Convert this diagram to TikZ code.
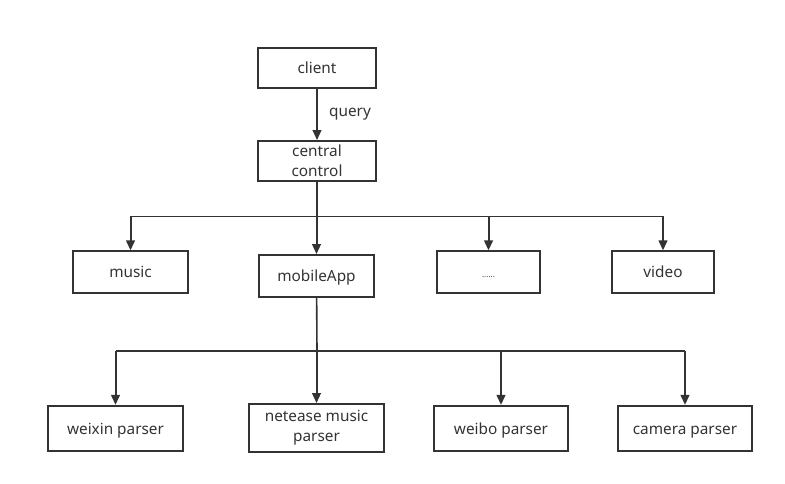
\documentclass[tikz,border=0pt]{standalone}
\usepackage{fontspec}
\setmainfont{Noto Sans}
\usetikzlibrary{arrows.meta}
\definecolor{linegray}{HTML}{333333}
\tikzset{
  box/.style={draw=linegray, line width=1.4pt, rectangle, align=center,
    font=\fontsize{11.5pt}{15pt}\selectfont, text=linegray, inner sep=0pt},
  oneline/.style={text height=1.95ex, text depth=0.4ex},
  arr/.style={draw=linegray, line width=1.5pt, -{Triangle[length=7.5pt,width=6.5pt]}},
  bus/.style={draw=linegray, line width=1.2pt}
}
\begin{document}
\begin{tikzpicture}[x=0.75pt, y=-0.75pt]
    \useasboundingbox (0, 0) rectangle (785, 484);
    % top part
    \node[box, oneline, minimum width=88.5pt, minimum height=30pt] (client) at (317, 68) {client};
    \node[box, minimum width=88.5pt, minimum height=30pt] (central) at (317, 161) {central\\control};
    \draw[arr] (client) -- (central) node[midway, right=5pt, font=\fontsize{11.5pt}{13pt}\selectfont, text=linegray] (query) {query};
    % second row
    \node[box, oneline, minimum width=86pt, minimum height=31pt] (music) at (130.5, 272) {music};
    \node[box, oneline, minimum width=86pt, minimum height=31.5pt] (mobile) at (316.5, 276) {mobileApp};
    \node[box, oneline, minimum width=77pt, minimum height=31pt] (dots) at (488.5, 272) {\fontsize{6pt}{7pt}\selectfont ......};
    \node[box, oneline, minimum width=76.5pt, minimum height=31pt] (video) at (663, 272) {video};
    \coordinate (hubA) at (317, 216.5);
    \draw[bus] (central) -- (hubA);
    \draw[bus] (hubA -| music) -- (hubA -| video);
    \foreach \n in {music, mobile, dots, video}
        \draw[arr] (hubA -| \n.north) -- (\n.north);
    % third row
    \node[box, oneline, minimum width=101pt, minimum height=34pt] (weixin) at (115.5, 428.5) {weixin parser};
    \node[box, minimum width=101pt, minimum height=36pt] (netease) at (316.5, 428) {netease music\\parser};
    \node[box, oneline, minimum width=101pt, minimum height=34pt] (weibo) at (501, 428.5) {weibo parser};
    \node[box, oneline, minimum width=100.5pt, minimum height=34pt] (camera) at (685, 428.5) {camera parser};
    \coordinate (hubB) at (317, 351);
    \draw[bus] (mobile) -- (hubB);
    \draw[bus] (hubB -| weixin) -- (hubB -| camera);
    \foreach \n in {weixin, netease, weibo, camera}
        \draw[arr] (hubB -| \n.north) -- (\n.north);
\end{tikzpicture}
\end{document}
